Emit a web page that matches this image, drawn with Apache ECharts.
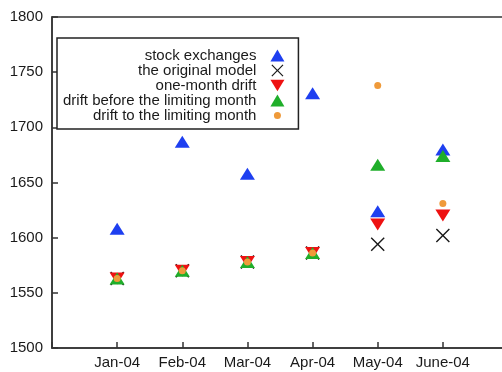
<!DOCTYPE html>
<html>
<head>
<meta charset="utf-8">
<script src="https://cdn.jsdelivr.net/npm/echarts@6/dist/echarts.min.js"></script>
<style>
  html, body { margin: 0; padding: 0; background: #fff; }
  #chart { width: 502px; height: 372px; }
</style>
</head>
<body>
<div id="chart"></div>
<script>
// Monthly index levels: observed values and four model forecasts
const months = ['Jan-04', 'Feb-04', 'Mar-04', 'Apr-04', 'May-04', 'June-04'];
const yTicks = [1500, 1550, 1600, 1650, 1700, 1750, 1800];

const stockExchanges = [1608, 1687, 1658, 1731, 1624, 1680];
const originalModel = [1563, 1570, 1578, 1586, 1594, 1602];
const oneMonthDrift = [1563, 1570, 1578, 1586, 1612, 1620];
const driftBeforeLimit = [1563, 1570, 1578, 1586, 1666, 1674];
const driftToLimit = [1563, 1570, 1578, 1586, 1738, 1631];

const FONT = "'Liberation Sans', Arial, sans-serif";

// month index (1-based) paired with value
const pts = arr => arr.map((v, i) => [i + 1, v]);

const xShape = 'path://M1,0L7,6L13,0L14,1L8,7L14,13L13,14L7,8L1,14L0,13L6,7L0,1Z';
const downTri = 'path://M0,0L16,0L8,13Z';
const smallDot = 'path://M0,0L0,0M14,12L14,12M3.5,6A3.5,3.5,0,1,0,10.5,6A3.5,3.5,0,1,0,3.5,6Z';

const series = [
  { name: 'stock exchanges', symbol: 'triangle', symbolSize: [15, 12], color: '#1e3ff0', data: pts(stockExchanges) },
  { name: 'the original model', symbol: xShape, symbolSize: 14, color: '#1a1a1a', data: pts(originalModel) },
  { name: 'one-month drift', symbol: downTri, symbolSize: [15, 12], color: '#ee1111', data: pts(oneMonthDrift) },
  { name: 'drift before the limiting month', symbol: 'triangle', symbolSize: [15, 12], color: '#1fae2a', data: pts(driftBeforeLimit) },
  { name: 'drift to the limiting month', symbol: 'circle', symbolSize: 7, color: '#ef9a3a', data: pts(driftToLimit) }
].map(s => ({
  type: 'scatter',
  name: s.name,
  symbol: s.symbol,
  symbolSize: s.symbolSize,
  itemStyle: { color: s.color, opacity: 1 },
  emphasis: { disabled: true },
  data: s.data
}));

const chart = echarts.init(document.getElementById('chart'), null, { renderer: 'canvas' });
chart.setOption({
  animation: false,
  backgroundColor: '#fff',
  grid: {
    left: 52, top: 17, width: 456, bottom: 24,
    outerBoundsMode: 'none',
    containLabel: false,
    show: true, borderColor: '#333', borderWidth: 1.5
  },
  xAxis: {
    type: 'value', min: 0, max: 7, interval: 1,
    axisLine: { show: true, lineStyle: { color: '#333', width: 1.5 } },
    axisTick: { show: true, inside: true, length: 6, lineStyle: { color: '#333', width: 1.5 } },
    splitLine: { show: false },
    axisLabel: {
      margin: 7, color: '#1a1a1a', fontSize: 15, fontFamily: FONT,
      formatter: v => months[v - 1] || ''
    }
  },
  yAxis: {
    type: 'value', min: yTicks[0], max: yTicks[yTicks.length - 1], interval: 50,
    axisLine: { show: true, lineStyle: { color: '#333', width: 1.5 } },
    axisTick: { show: true, inside: true, length: 6, lineStyle: { color: '#333', width: 1.5 } },
    splitLine: { show: false },
    axisLabel: {
      margin: 9, color: '#1a1a1a', fontSize: 15, fontFamily: FONT,
      formatter: v => String(v)
    }
  },
  legend: {
    orient: 'vertical',
    left: 57, top: 38,
    align: 'right',
    padding: [10, 14, 6, 6],
    itemGap: 0,
    itemWidth: 14, itemHeight: 12,
    borderColor: '#222', borderWidth: 1.5,
    backgroundColor: '#fff',
    selectedMode: false,
    data: [
      { name: 'stock exchanges' },
      { name: 'the original model' },
      { name: 'one-month drift', icon: downTri },
      { name: 'drift before the limiting month' },
      { name: 'drift to the limiting month', icon: smallDot }
    ],
    formatter: name => '{t|' + name + '}',
    textStyle: {
      rich: {
        t: {
          width: 193, align: 'right', padding: [0, 9, 0, 0],
          fontSize: 15, lineHeight: 15, height: 15,
          color: '#1a1a1a', fontFamily: FONT
        }
      }
    }
  },
  series: series
});
</script>
</body>
</html>
